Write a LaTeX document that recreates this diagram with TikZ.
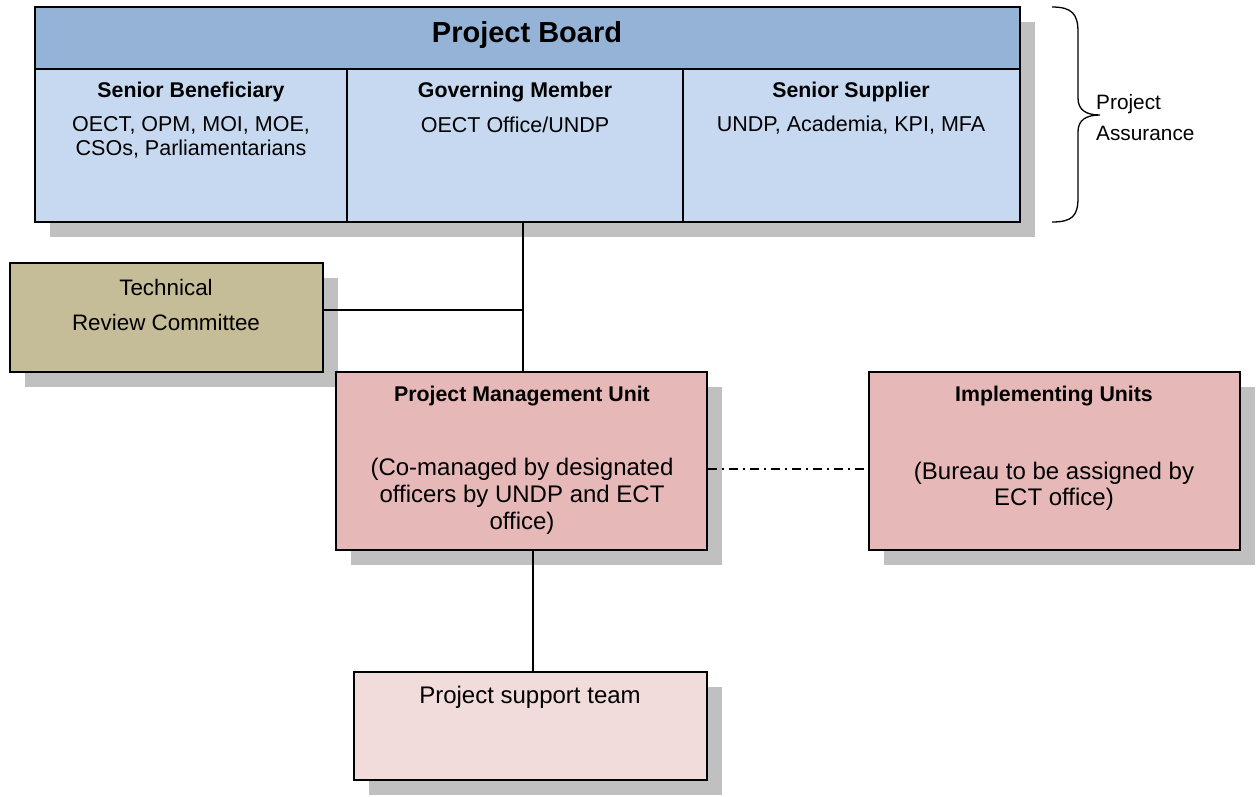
\documentclass[tikz,border=0pt]{standalone}
\usepackage{fontspec}
\setmainfont{Liberation Sans}
\usetikzlibrary{shadows}
\definecolor{hdr}{HTML}{95B3D7}
\definecolor{bodyblue}{HTML}{C6D9F1}
\definecolor{khaki}{HTML}{C4BD97}
\definecolor{rose}{HTML}{E6B8B7}
\definecolor{lightrose}{HTML}{F2DCDB}
\definecolor{shadowgray}{HTML}{C0C0C0}
\begin{document}
\begin{tikzpicture}[x=1pt,y=-1pt,
  box/.style={draw=black,line width=1.6pt,rectangle,inner sep=0pt,anchor=center,
    drop shadow={shadow xshift=15pt,shadow yshift=-15pt,fill=shadowgray,opacity=1}},
  txt/.style={inner sep=0pt,align=center,font=\fontsize{21.5}{24}\selectfont},
  btxt/.style={inner sep=0pt,align=center,font=\fontsize{21.3}{24}\selectfont\bfseries},
  conn/.style={line width=1.5pt,draw=black},
]
\useasboundingbox (0,0) rectangle (1259,796);
% Project board
\node[box,fill=bodyblue,minimum width=985pt,minimum height=215pt] (board) at (527.5,114.5) {};
\fill[hdr] (35,7) rectangle (1020,69);
\draw[line width=1.6pt] (35,69) -- (1020,69);
\draw[line width=1.6pt] (347,69) -- (347,222);
\draw[line width=1.6pt] (683,69) -- (683,222);
\draw[line width=1.6pt] (35,7) rectangle (1020,222);
\node[inner sep=0pt,font=\fontsize{29}{32}\selectfont\bfseries] (pbtitle) at (527,35) {Project Board};
\node[btxt] (sb) at (191,92) {Senior Beneficiary};
\node[txt] (sbt) at (191,137) {OECT, OPM, MOI, MOE,\\CSOs, Parliamentarians};
\node[btxt] (gm) at (515,92) {Governing Member};
\node[txt] (gmt) at (515,125) {OECT Office/UNDP};
\node[btxt] (ss) at (851,92) {Senior Supplier};
\node[txt] (sst) at (851,125) {UNDP, Academia, KPI, MFA};
% brace
\draw[line width=1.3pt] (1052,7) .. controls (1072,7) and (1078,14) .. (1078,32) -- (1078,98)
  .. controls (1078,110) and (1086,115) .. (1100,115)
  .. controls (1086,115) and (1078,120) .. (1078,132) -- (1078,198)
  .. controls (1078,216) and (1072,222) .. (1052,222);
\node[txt,anchor=west,font=\fontsize{20.8}{31}\selectfont,align=left] (pa) at (1096,118) {Project\\Assurance};
% TRC
\node[box,fill=khaki,minimum width=313pt,minimum height=109pt] (trc) at (166.5,317.5) {};
\node[txt,font=\fontsize{22.4}{35}\selectfont] (trct) at (166,305) {Technical\\Review Committee};
% PMU
\node[box,fill=rose,minimum width=371pt,minimum height=178pt] (pmu) at (521.5,461) {};
\node[btxt] (pmut) at (522,396) {Project Management Unit};
\node[txt,font=\fontsize{24}{27}\selectfont] (pmub) at (522,496) {(Co-managed by designated\\officers by UNDP and ECT\\office)};
% IU
\node[box,fill=rose,minimum width=371pt,minimum height=178pt] (iu) at (1054.5,461) {};
\node[btxt] (iut) at (1054,396) {Implementing Units};
\node[txt,font=\fontsize{24}{26}\selectfont] (iub) at (1054,486) {(Bureau to be assigned by\\ECT office)};
% PST
\node[box,fill=lightrose,minimum width=353pt,minimum height=108pt] (pst) at (530.5,726) {};
\node[txt,font=\fontsize{24}{26}\selectfont] (pstt) at (530,697) {Project support team};
% connectors
\coordinate (j) at (523,310);
\coordinate (k) at (533,560);
\draw[conn] (board.south -| j) -- (j |- pmu.north);
\draw[conn] (trc.east |- j) -- (j);
\draw[conn] (k |- pmu.south) -- (k |- pst.north);
\draw[line width=1.2pt,dash pattern=on 9pt off 5pt on 2pt off 5pt] (pmu.east |- 0,469) -- (iu.west |- 0,469);
\end{tikzpicture}
\end{document}
